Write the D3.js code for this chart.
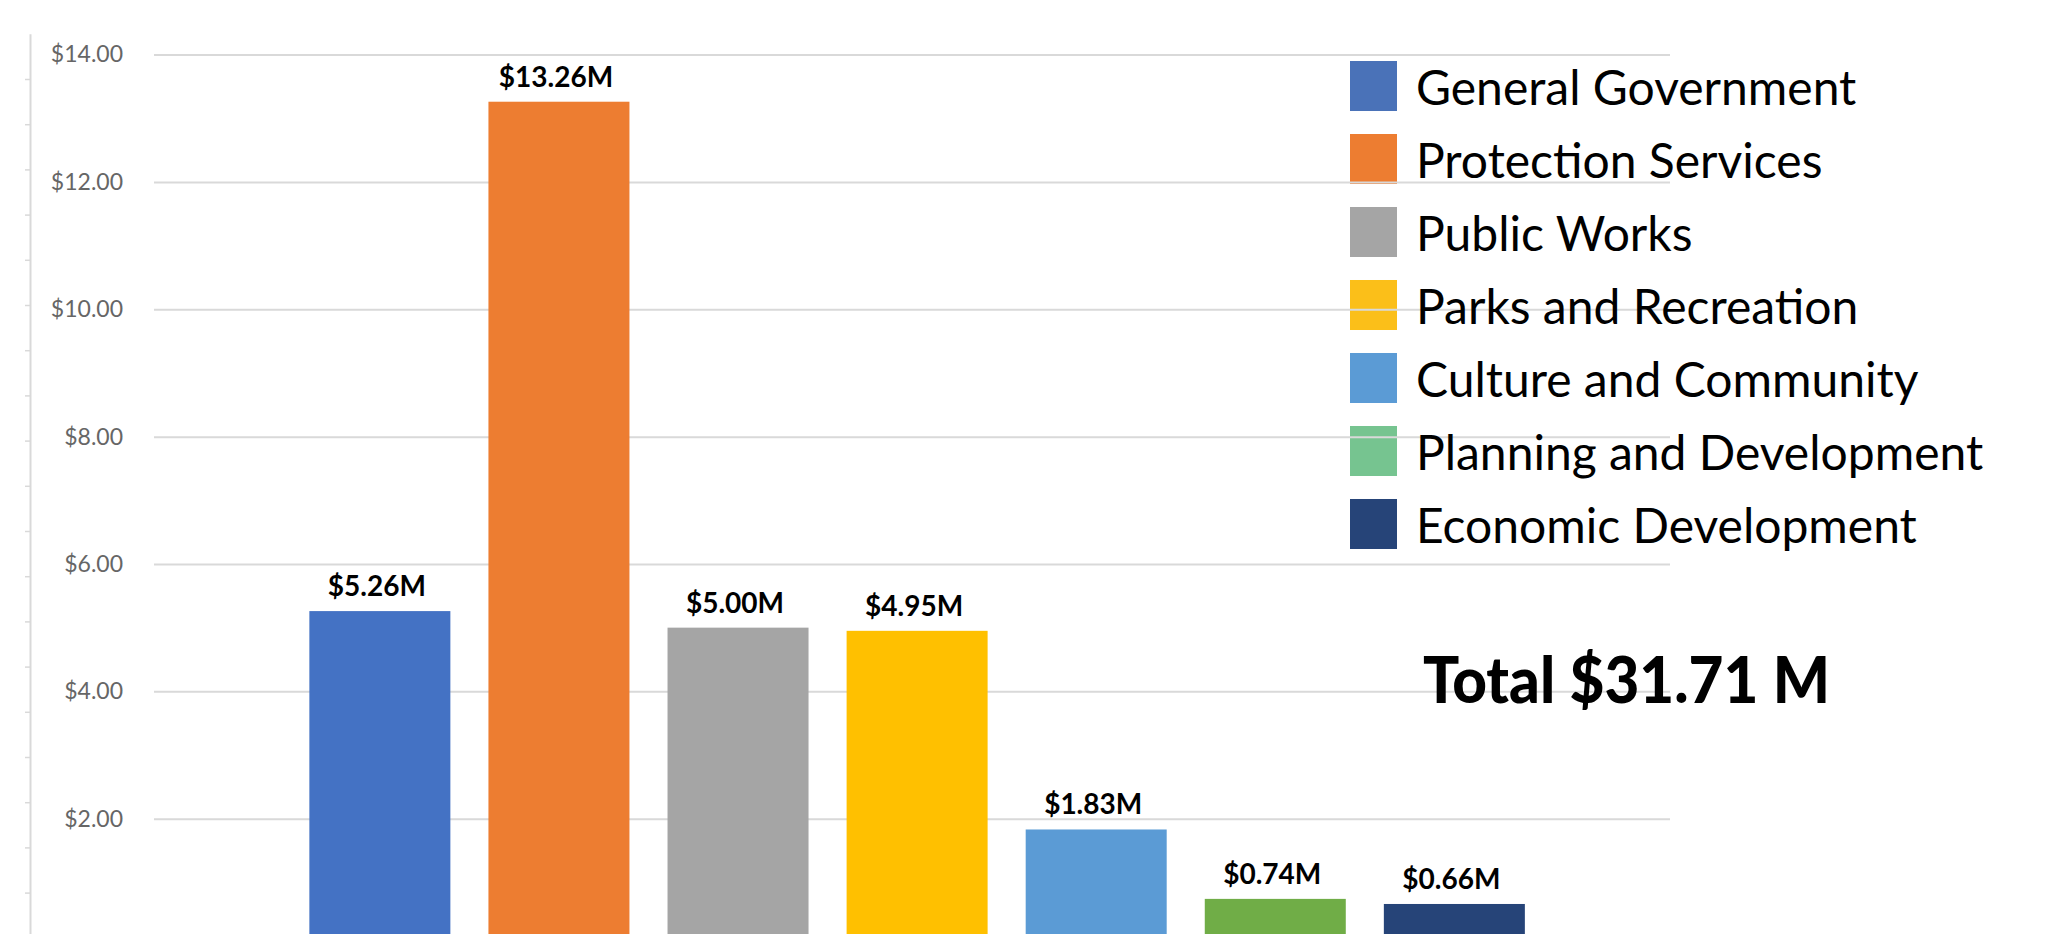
<!DOCTYPE html>
<html>
<head>
<meta charset="utf-8">
<script src="https://cdn.jsdelivr.net/npm/d3@7/dist/d3.min.js"></script>
<style>
  html, body { margin: 0; padding: 0; background: #ffffff; }
  svg { display: block; }
</style>
</head>
<body>
<script>
// ---- Data ----
const categories = [
  "General Government",
  "Protection Services",
  "Public Works",
  "Parks and Recreation",
  "Culture and Community",
  "Planning and Development",
  "Economic Development"
];
const values = [5.26, 13.26, 5.00, 4.95, 1.83, 0.74, 0.66]; // $ millions
const barColors = ["#4472c4", "#ed7d31", "#a5a5a5", "#ffc000", "#5b9bd5", "#70ad47", "#264478"];
const legendColors = ["#4a72b8", "#ed7d31", "#a5a5a5", "#fbbf19", "#5b9bd5", "#76c490", "#264478"];
const yTicks = [0, 2, 4, 6, 8, 10, 12, 14];
const totalLabel = "Total $31.71 M";

// ---- Layout ----
const W = 2050, H = 934;
const svg = d3.select("body").append("svg").attr("width", W).attr("height", H);
svg.append("rect").attr("width", W).attr("height", H).attr("fill", "#ffffff");

const x = d3.scaleBand().domain(categories).range([154, 1670])
  .paddingInner(0.2126).paddingOuter(0.839).align(0.517);
const y = d3.scaleLinear().domain([0, 14]).range([946, 54.6]);
const color = d3.scaleOrdinal().domain(categories).range(barColors);
const legendColor = d3.scaleOrdinal().domain(categories).range(legendColors);
const fmtTick = d => "$" + d3.format(".2f")(d);
const fmtVal = d => "$" + d3.format(".2f")(d) + "M";

// decorative ruler axis on far left
const ruler = d3.scaleLinear().domain([0, 20]).range([33.8, 937.8]);
const rulerG = svg.append("g").attr("transform", "translate(30,0)")
  .call(d3.axisLeft(ruler).tickValues(d3.range(1, 20)).tickSize(5).tickSizeOuter(0).tickFormat(""));
rulerG.select(".domain").attr("stroke", "#d9d9d9").attr("stroke-width", 2);
rulerG.selectAll(".tick line").attr("stroke", "#d9d9d9").attr("stroke-width", 1.5);

// legend swatches
const ly = d3.scaleBand().domain(categories).range([61, 549]).paddingInner(0.315).paddingOuter(0);
svg.append("g").selectAll("rect").data(categories).join("rect")
  .attr("x", 1350).attr("y", d => ly(d))
  .attr("width", 47).attr("height", ly.bandwidth())
  .attr("fill", d => legendColor(d));

// gridlines + y labels
const yAxisG = svg.append("g").attr("transform", "translate(154,0)")
  .call(d3.axisLeft(y).tickValues(yTicks).tickSize(-1516).tickPadding(31).tickFormat(fmtTick));
yAxisG.select(".domain").remove();
yAxisG.selectAll(".tick line").attr("stroke", "#d9d9d9").attr("stroke-width", 2);
yAxisG.selectAll(".tick text")
  .attr("fill", "#666666")
  .style("font-family", "Lato, 'Open Sans', sans-serif")
  .style("font-size", "23px");

// bars
const data = categories.map((c, i) => ({ c, v: values[i] }));
svg.append("g").selectAll("rect").data(data).join("rect")
  .attr("x", d => x(d.c)).attr("width", x.bandwidth())
  .attr("y", d => y(d.v)).attr("height", d => y(0) - y(d.v))
  .attr("fill", d => color(d.c));

// value labels
svg.append("g").selectAll("text").data(data).join("text")
  .attr("x", d => x(d.c) + x.bandwidth() / 2 - 3)
  .attr("y", d => y(d.v) - 15)
  .attr("text-anchor", "middle")
  .style("font-family", "Lato, 'Open Sans', sans-serif")
  .style("font-weight", "700")
  .style("font-size", "28px")
  .attr("fill", "#000000")
  .text(d => fmtVal(d.v));

// legend text (drawn above gridlines)
svg.append("g").selectAll("text").data(categories).join("text")
  .attr("x", 1416).attr("y", d => ly(d) + 44)
  .style("font-family", "Lato, 'Open Sans', sans-serif")
  .style("font-size", "48px")
  .attr("fill", "#000000")
  .text(d => d);

// total
svg.append("text")
  .attr("x", 1423).attr("y", 703)
  .attr("textLength", 407).attr("lengthAdjust", "spacingAndGlyphs")
  .style("font-family", "Lato, 'Open Sans', sans-serif")
  .style("font-weight", "900")
  .style("font-size", "64px")
  .attr("fill", "#000000")
  .text(totalLabel);
</script>
</body>
</html>
